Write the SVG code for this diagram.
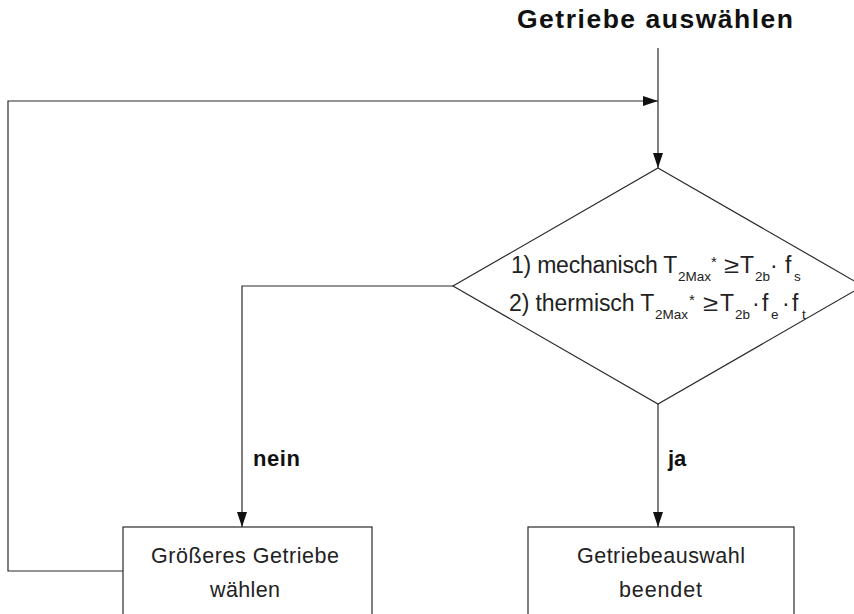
<svg xmlns="http://www.w3.org/2000/svg" width="854" height="614" viewBox="0 0 854 614">
  <style>
    .line { fill: none; stroke: #2a2a2a; stroke-width: 1.2; }
    .shape { fill: #ffffff; stroke: #2a2a2a; stroke-width: 1.2; }
    .t { font-family: "Liberation Sans", Arial, sans-serif; font-size: 21.5px; fill: #222222; }
    .d { font-size: 23px; }
    .sub { font-size: 13.5px; }
    .sup { font-size: 15px; }
    .b { font-family: "Liberation Sans", Arial, sans-serif; font-weight: bold; fill: #111111; }
  </style>
  <defs>
    <marker id="arrow" viewBox="0 0 15 10" refX="15" refY="5" markerWidth="15" markerHeight="10" markerUnits="userSpaceOnUse" orient="auto">
      <path d="M0,0 L15,5 L0,10 Z" fill="#111111"/>
    </marker>
  </defs>

  <g id="start">
    <text class="b" x="517" y="28" font-size="26.5" textLength="276" lengthAdjust="spacing">Getriebe auswählen</text>
  </g>

  <g id="connectors">
    <path class="line" d="M658,48 L658,168" marker-end="url(#arrow)"/>
    <path class="line" d="M123,571 L8,571 L8,101 L658,101" marker-end="url(#arrow)"/>
    <path class="line" d="M453,286 L242,286 L242,527" marker-end="url(#arrow)"/>
    <path class="line" d="M658,404 L658,527" marker-end="url(#arrow)"/>
    <text class="b" x="253" y="466" font-size="22" textLength="47" lengthAdjust="spacing">nein</text>
    <text class="b" x="668" y="466" font-size="22">ja</text>
  </g>

  <g id="decision">
    <polygon class="shape" points="658,168 863,286 658,404 453,286"/>
    <text class="t d" y="273">
      <tspan x="511" textLength="166" lengthAdjust="spacing">1) mechanisch T</tspan>
      <tspan class="sub" x="678" y="281">2Max</tspan>
      <tspan class="sup" x="711" y="267">*</tspan>
      <tspan x="724" y="273" textLength="15" lengthAdjust="spacingAndGlyphs">≥</tspan>
      <tspan x="740">T</tspan>
      <tspan class="sub" x="755" y="281">2b</tspan>
      <tspan x="770" y="273">·</tspan>
      <tspan x="785">f</tspan>
      <tspan class="sub" x="794" y="281">s</tspan>
    </text>
    <text class="t d" y="311">
      <tspan x="509" textLength="145" lengthAdjust="spacing">2) thermisch T</tspan>
      <tspan class="sub" x="655" y="319">2Max</tspan>
      <tspan class="sup" x="689" y="305">*</tspan>
      <tspan x="703" y="311" textLength="15" lengthAdjust="spacingAndGlyphs">≥</tspan>
      <tspan x="720">T</tspan>
      <tspan class="sub" x="735" y="319">2b</tspan>
      <tspan x="752" y="311">·</tspan>
      <tspan x="762">f</tspan>
      <tspan class="sub" x="771" y="319">e</tspan>
      <tspan x="782" y="311">·</tspan>
      <tspan x="792">f</tspan>
      <tspan class="sub" x="802" y="319">t</tspan>
    </text>
  </g>

  <g id="box-larger">
    <rect class="shape" x="123" y="527" width="249" height="100"/>
    <text class="t" x="151" y="563" textLength="188" lengthAdjust="spacing">Größeres Getriebe</text>
    <text class="t" x="210" y="597" textLength="70" lengthAdjust="spacing">wählen</text>
  </g>

  <g id="box-done">
    <rect class="shape" x="528" y="527" width="266" height="100"/>
    <text class="t" x="577" y="563" textLength="168" lengthAdjust="spacing">Getriebeauswahl</text>
    <text class="t" x="619" y="597" textLength="83" lengthAdjust="spacing">beendet</text>
  </g>
</svg>
